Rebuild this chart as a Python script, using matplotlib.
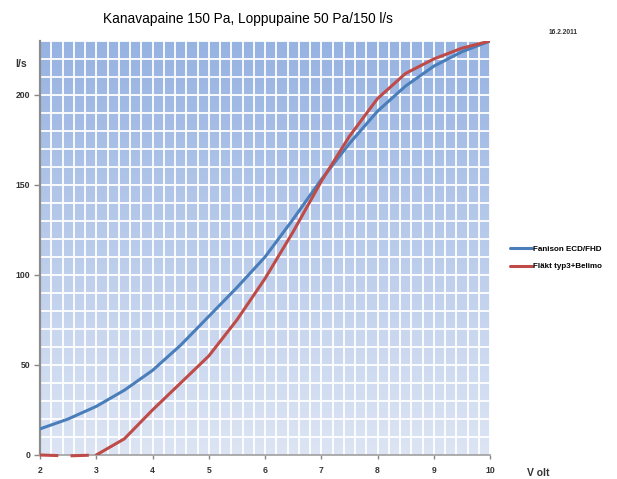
import numpy as np
import matplotlib
matplotlib.use('Agg')
import matplotlib.pyplot as plt
from matplotlib.colors import LinearSegmentedColormap

plt.rcParams['font.family'] = ['Liberation Sans', 'DejaVu Sans']

# data
volt = [2, 2.5, 3, 3.5, 4, 4.5, 5, 5.5, 6, 6.5, 7, 7.5, 8, 8.5, 9, 9.5, 10]
fanison = [14.5, 20, 27, 36, 47, 61, 77, 93, 110, 131, 153, 173, 191, 205, 216, 224, 230]
flakt = [0, -0.5, 0, 9, 25, 40, 55, 75, 98, 124, 152, 177, 198, 212, 220, 226, 230]
series_names = ['Fanison ECD/FHD', 'Fläkt typ3+Belimo']
y_ticks = [0, 50, 100, 150, 200]
x_ticks = [2, 3, 4, 5, 6, 7, 8, 9, 10]

blue = '#4A7EBB'
red = '#BE4B48'

fig = plt.figure(figsize=(6.17, 4.79), dpi=100)
ax = fig.add_axes([40 / 617, 24 / 479, 450 / 617, 414 / 479])

# gradient background
cmap = LinearSegmentedColormap.from_list('bg', ['#DDE5F4', '#97B3E2'])
grad = np.linspace(0, 1, 256).reshape(-1, 1)
ax.imshow(grad, extent=[2, 10, 0, 230], origin='lower', aspect='auto',
          cmap=cmap, zorder=0)

ax.set_xlim(2, 10)
ax.set_ylim(0, 230)

for xv in np.arange(2.2, 10.01, 0.2):
    ax.axvline(xv, color='white', lw=1.3, zorder=1)
for yv in np.arange(10, 231, 10):
    ax.axhline(yv, color='white', lw=1.3, zorder=1)

v = np.array(volt)
f2 = np.array(flakt)
ax.plot(volt, fanison, color=blue, lw=2.2, zorder=3, label=series_names[0],
        solid_capstyle='round', solid_joinstyle='round')
ax.plot(v[v >= 3], f2[v >= 3], color=red, lw=2.2, zorder=3,
        label=series_names[1], solid_capstyle='round', solid_joinstyle='round')
ax.plot(v[v <= 3], f2[v <= 3], color=red, lw=2.2, zorder=3,
        dashes=(6, 4), clip_on=False)

ax.set_xticks(x_ticks)
ax.set_yticks(y_ticks)
ax.set_xticklabels([str(t) for t in x_ticks], fontsize=6.2, fontweight='bold',
                   color='#333333')
ax.set_yticklabels([str(t) for t in y_ticks], fontsize=6.2, fontweight='bold',
                   color='#333333')
ax.tick_params(axis='y', length=4, width=1, color='#888888', pad=3)
ax.tick_params(axis='x', length=3, width=1, color='#888888', pad=5)
for s in ['top', 'right']:
    ax.spines[s].set_visible(False)
ax.spines['left'].set_color('#8C8C8C')
ax.spines['left'].set_linewidth(1.6)
ax.spines['bottom'].set_color('#A0A0A0')
ax.spines['bottom'].set_linewidth(1.2)

fig.text(248 / 617, 1 - 19 / 479, 'Kanavapaine 150 Pa, Loppupaine 50 Pa/150 l/s',
         ha='center', va='center', fontsize=9.8)
fig.text(563 / 617, 1 - 32 / 479, '16.2.2011', ha='center', va='center',
         fontsize=4.8, fontweight='bold', color='#333333')
fig.text(21 / 617, 1 - 64 / 479, 'l/s', ha='center', va='center',
         fontsize=7.5, fontweight='bold', color='#333333')
fig.text(538 / 617, 1 - 473 / 479, 'V olt', ha='center', va='center',
         fontsize=7.5, fontweight='bold', color='#333333')

handles, labels = ax.get_legend_handles_labels()
fig.legend(handles, labels, loc='center left',
           bbox_to_anchor=(503 / 617, 1 - 258 / 479), frameon=False,
           prop={'weight': 'bold', 'size': 5.8},
           handlelength=2.7, handletextpad=0.1, labelspacing=1.2)

fig.savefig('out.png', dpi=100)
